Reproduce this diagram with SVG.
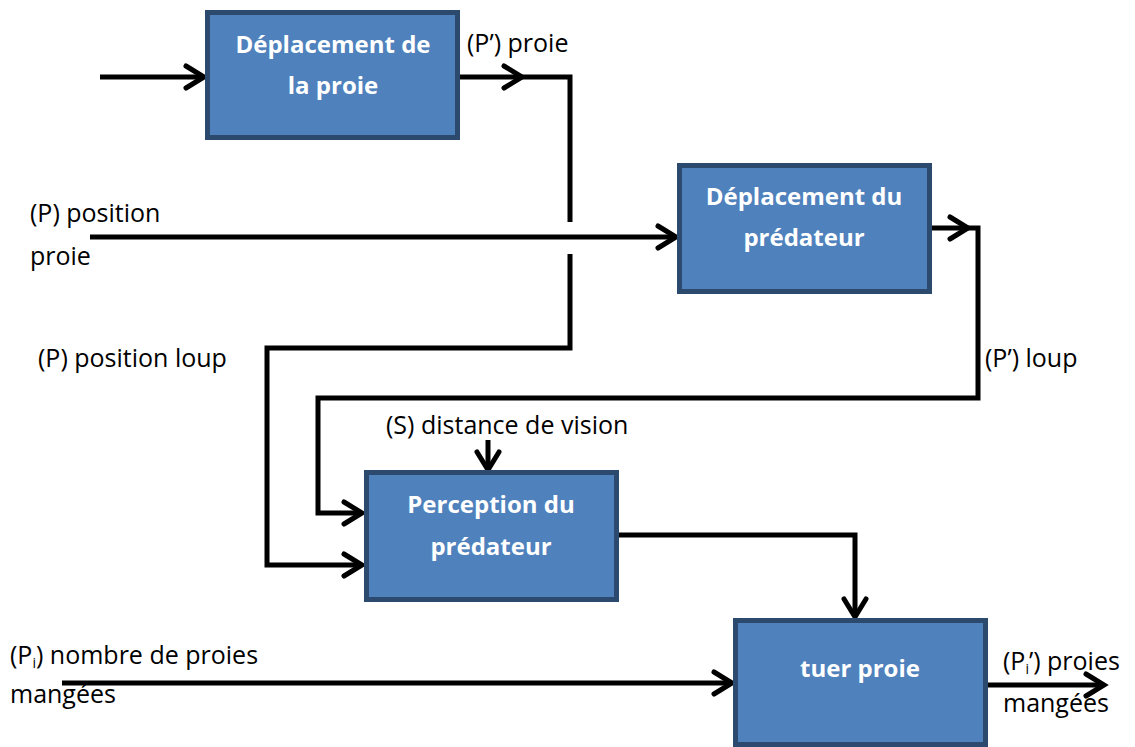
<svg xmlns="http://www.w3.org/2000/svg" width="1135" height="747" viewBox="0 0 1135 747">
<style>
.box{fill:#4f81bd;stroke:#2c4a6e;stroke-width:5}
.bt{font-family:"Open Sans","Liberation Sans",Arial,sans-serif;font-weight:bold;font-size:24px;fill:#fff;text-anchor:middle}
.lb{font-family:"Open Sans","Liberation Sans",Arial,sans-serif;font-size:25px;fill:#000}
.c{fill:none;stroke:#000;stroke-width:5;stroke-linejoin:miter}
</style>
<defs>
<marker id="arr" markerWidth="30" markerHeight="30" refX="22" refY="13" orient="auto" markerUnits="userSpaceOnUse" overflow="visible">
<path d="M4,2 L22,13 L4,24" fill="none" stroke="#000" stroke-width="5" stroke-linecap="round"/>
</marker>
</defs>
<rect width="1135" height="747" fill="#fff"/>
<g id="connectors">
<path class="c" d="M100,77 L204,77" marker-end="url(#arr)"/>
<path class="c" d="M458,77 L522,77" marker-end="url(#arr)"/>
<path class="c" d="M520,77 L570,77 L570,222"/>
<path class="c" d="M570,254 L570,348 L267,348 L267,565 L362,565" marker-end="url(#arr)"/>
<path class="c" d="M90,237 L676,237" stroke-width="4" marker-end="url(#arr)"/>
<path class="c" d="M930,228 L968,228" marker-end="url(#arr)"/>
<path class="c" d="M966,228 L978,228 L978,398 L318,398 L318,513 L362,513" marker-end="url(#arr)"/>
<path class="c" d="M488,440 L488,470" marker-end="url(#arr)"/>
<path class="c" d="M617,535 L855,535 L855,617" marker-end="url(#arr)"/>
<path class="c" d="M62,683 L732,683" marker-end="url(#arr)"/>
<path class="c" d="M986,685 L1104,685" marker-end="url(#arr)"/>
</g>
<g id="node-deplacement-proie">
<rect class="box" x="207.5" y="12.5" width="250" height="125"/>
<text class="bt" x="333" y="53">Déplacement de</text>
<text class="bt" x="333" y="94">la proie</text>
</g>
<g id="node-deplacement-predateur">
<rect class="box" x="679.5" y="165.5" width="250" height="126"/>
<text class="bt" x="804" y="205">Déplacement du</text>
<text class="bt" x="804" y="246">prédateur</text>
</g>
<g id="node-perception">
<rect class="box" x="366.5" y="472.5" width="250" height="127"/>
<text class="bt" x="491" y="513">Perception du</text>
<text class="bt" x="491" y="555">prédateur</text>
</g>
<g id="node-tuer">
<rect class="box" x="735.5" y="620.5" width="250" height="124"/>
<text class="bt" x="860" y="677">tuer proie</text>
</g>
<g id="labels">
<text class="lb" x="467" y="52">(P’) proie</text>
<text class="lb" x="30" y="222">(P) position</text>
<text class="lb" x="30" y="265">proie</text>
<text class="lb" x="38" y="367">(P) position loup</text>
<text class="lb" x="985" y="367">(P’) loup</text>
<text class="lb" x="386" y="434">(S) distance de vision</text>
<text class="lb" x="10" y="664">(P<tspan font-size="14" dy="4">i</tspan><tspan dy="-4">) nombre de proies</tspan></text>
<text class="lb" x="10" y="703">mangées</text>
<text class="lb" x="1003" y="670">(P<tspan font-size="14" dy="4">i</tspan><tspan dy="-4">’) proies</tspan></text>
<text class="lb" x="1003" y="712">mangées</text>
</g>
</svg>
